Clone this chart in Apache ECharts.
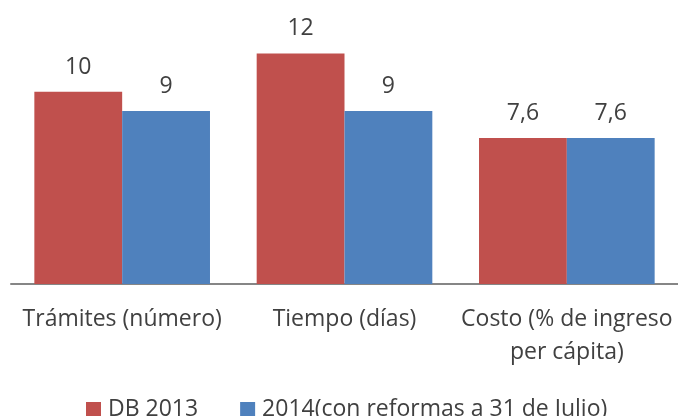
<!DOCTYPE html>
<html>
<head>
<meta charset="utf-8">
<script src="https://cdn.jsdelivr.net/npm/echarts@6/dist/echarts.min.js"></script>
<style>
  html, body { margin: 0; padding: 0; background: #fff; }
  #main-chart { width: 678px; height: 416px; }
</style>
</head>
<body>
<div id="main-chart"></div>
<script>
const categories = ['Trámites (número)', 'Tiempo (días)', 'Costo (% de ingreso\nper cápita)']
const seriesNames = ['DB 2013', '2014(con reformas a 31 de Julio)']
const db2013 = [10, 12, 7.6]
const y2014 = [9, 9, 7.6]

const textColor = '#404040'
const fontFamily = 'Open Sans'

const fmt = function (p) {
  return String(p.value).replace('.', ',')
}

const chartDom = document.getElementById('main-chart')
const myChart = echarts.init(chartDom)

const option = {
  animation: false,
  grid: {
    left: 11,
    right: 0,
    top: 15,
    bottom: 132
  },
  legend: {
    left: 86,
    top: 398,
    padding: 0,
    itemWidth: 15,
    itemHeight: 15,
    itemGap: 42,
    icon: 'rect',
    textStyle: { color: textColor, fontSize: 23, fontFamily: fontFamily, padding: [0, 0, 0, 2] },
    data: seriesNames
  },
  xAxis: {
    type: 'category',
    data: categories,
    axisLine: { lineStyle: { color: '#868686', width: 2 } },
    axisTick: { show: false },
    axisLabel: {
      color: textColor,
      fontSize: 23,
      fontFamily: fontFamily,
      lineHeight: 33,
      margin: 19,
      interval: 0
    }
  },
  yAxis: {
    type: 'value',
    min: 0,
    max: 14,
    show: false
  },
  series: [
    {
      name: seriesNames[0],
      type: 'bar',
      data: db2013,
      barGap: '0%',
      barCategoryGap: '21%',
      itemStyle: { color: '#C0504D' },
      label: { show: true, position: 'top', distance: 13, color: textColor, fontSize: 23, fontFamily: fontFamily, formatter: fmt }
    },
    {
      name: seriesNames[1],
      type: 'bar',
      data: y2014,
      barGap: '0%',
      barCategoryGap: '21%',
      itemStyle: { color: '#4F81BD' },
      label: { show: true, position: 'top', distance: 13, color: textColor, fontSize: 23, fontFamily: fontFamily, formatter: fmt }
    }
  ]
}

myChart.setOption(option)
</script>
</body>
</html>
